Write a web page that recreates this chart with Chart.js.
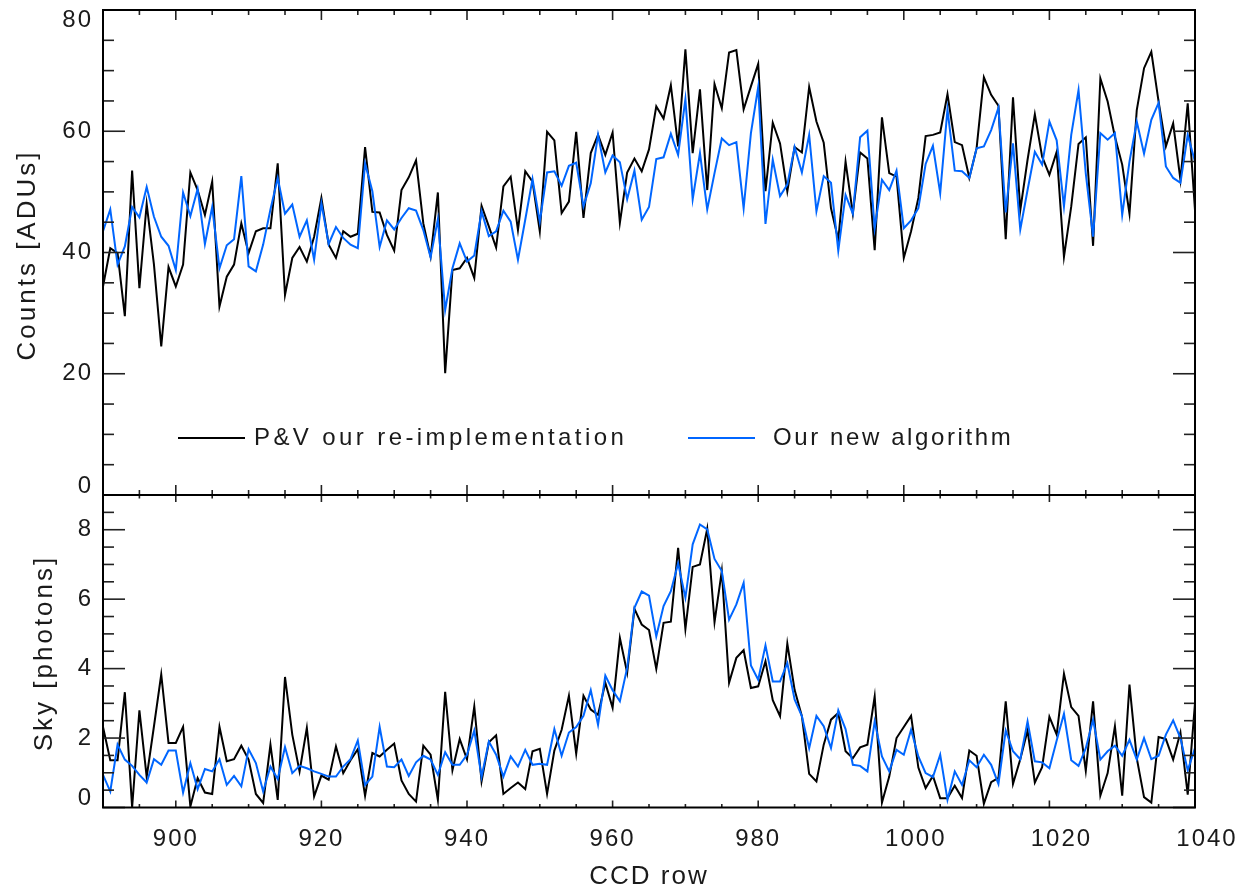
<!DOCTYPE html>
<html lang="en">
<head>
  <meta charset="UTF-8" />
  <title>Counts and sky per CCD row</title>
  <script src="https://cdn.jsdelivr.net/npm/chart.js"></script>
  <style>
    body { margin: 0; background: #fff; }
    .wrap { position: relative; width: 1244px; height: 893px; }
    .wrap canvas { position: absolute; left: 0; top: 0; }
  </style>
</head>
<body>
  <div class="wrap">
    <canvas id="topChart" width="1244" height="893"></canvas>
    <canvas id="skyChart" width="1244" height="893"></canvas>
  </div>

  <script>
    // CCD rows 890..1040, one value per row
    const rows = Array.from({ length: 151 }, (_, k) => 890 + k);
    const xTicks = [900, 920, 940, 960, 980, 1000, 1020, 1040];
    const countsTicks = [0, 20, 40, 60, 80];
    const skyTicks = [0, 2, 4, 6, 8];
    const seriesNames = ['P&V our re-implementation', 'Our new algorithm'];

    // top panel: Counts [ADUs]
    const countsPV = [
      34.4, 40.7, 39.9, 29.5, 53.5, 34.1, 48.0, 38.0, 24.5, 37.6,
      34.4, 38.0, 53.2, 50.3, 46.2, 51.7, 31.1, 36.0, 38.0, 44.8,
      39.9, 43.5, 44.0, 44.0, 54.7, 33.0, 39.1, 40.9, 38.5, 42.6,
      49.0, 41.3, 39.1, 43.5, 42.6, 43.1, 57.4, 46.7, 46.6, 42.9,
      40.3, 50.3, 52.4, 55.2, 44.8, 39.3, 49.9, 20.1, 37.1, 37.4,
      39.1, 35.8, 47.7, 44.3, 40.8, 50.9, 52.5, 43.7, 53.4, 51.7,
      43.5, 59.9, 58.5, 46.5, 48.4, 59.9, 45.7, 56.4, 59.4, 56.1,
      59.8, 44.9, 53.2, 55.5, 53.4, 57.0, 64.1, 62.1, 67.6, 57.5,
      73.5, 56.4, 66.9, 50.3, 67.8, 63.8, 73.0, 73.4, 63.6, 67.4,
      71.1, 50.1, 61.4, 58.0, 50.1, 57.4, 56.5, 67.3, 61.6, 58.1,
      47.3, 42.1, 55.0, 46.4, 56.5, 55.5, 40.4, 62.3, 53.1, 52.5,
      39.1, 43.5, 49.0, 59.2, 59.4, 59.8, 66.1, 58.2, 57.7, 52.3,
      57.2, 68.9, 66.0, 64.2, 42.2, 65.6, 47.0, 55.3, 62.8, 55.8,
      52.8, 56.6, 39.3, 47.6, 57.9, 59.0, 41.1, 68.7, 64.9, 59.1,
      54.5, 46.4, 63.5, 70.4, 73.1, 64.9, 57.5, 61.3, 52.0, 64.6,
      47.0
    ];
    const countsNew = [
      43.5, 47.1, 38.0, 41.0, 47.5, 45.8, 50.8, 45.9, 42.6, 41.1,
      37.1, 49.9, 46.0, 50.5, 41.4, 47.5, 37.4, 41.2, 42.2, 52.6,
      37.7, 36.9, 41.3, 47.1, 52.3, 46.4, 47.9, 42.6, 45.3, 38.8,
      48.1, 41.4, 44.2, 42.4, 41.3, 40.7, 54.7, 50.1, 40.9, 45.3,
      43.8, 45.7, 47.3, 46.9, 43.7, 39.2, 45.5, 30.5, 37.4, 41.5,
      38.5, 39.5, 46.8, 42.7, 43.5, 46.9, 45.1, 38.8, 45.4, 52.1,
      45.1, 53.2, 53.4, 51.0, 54.3, 54.8, 47.6, 51.4, 59.4, 53.2,
      56.0, 54.9, 48.8, 53.5, 45.4, 47.5, 55.4, 55.7, 59.6, 56.1,
      65.3, 48.8, 56.4, 47.1, 53.1, 58.8, 57.7, 58.2, 47.3, 59.7,
      67.3, 44.7, 55.3, 49.3, 51.2, 57.4, 53.2, 59.4, 46.8, 52.6,
      51.5, 40.3, 49.5, 46.4, 59.0, 60.1, 44.0, 52.0, 50.3, 53.5,
      44.0, 45.3, 47.3, 54.6, 57.6, 49.8, 63.6, 53.5, 53.4, 52.3,
      57.2, 57.5, 60.2, 63.9, 46.6, 58.0, 43.8, 50.3, 56.6, 54.5,
      61.6, 58.5, 47.6, 59.4, 66.8, 53.0, 42.6, 59.7, 58.6, 59.7,
      46.2, 55.0, 61.6, 56.3, 61.9, 64.7, 54.2, 52.3, 51.5, 59.4,
      55.0
    ];

    // bottom panel: Sky [photons]
    const skyPV = [
      2.32, 1.36, 1.36, 3.32, 0.00, 2.80, 0.88, 2.34, 3.83, 1.86,
      1.86, 2.32, 0.03, 0.85, 0.43, 0.39, 2.32, 1.33, 1.39, 1.78,
      1.38, 0.39, 0.13, 1.81, 0.22, 3.76, 2.10, 1.04, 2.29, 0.32,
      0.92, 0.80, 1.76, 0.99, 1.36, 1.68, 0.34, 1.57, 1.47, 1.66,
      1.84, 0.78, 0.39, 0.17, 1.78, 1.52, 0.22, 3.33, 1.07, 1.97,
      1.39, 2.91, 0.75, 1.88, 2.08, 0.39, 0.56, 0.72, 0.53, 1.62,
      1.69, 0.39, 1.64, 2.24, 3.22, 1.55, 3.22, 2.82, 2.67, 3.59,
      2.87, 4.88, 3.88, 5.72, 5.27, 5.11, 3.99, 5.32, 5.35, 7.48,
      5.14, 6.93, 7.00, 8.03, 5.34, 6.81, 3.59, 4.31, 4.53, 3.44,
      3.49, 4.21, 3.09, 2.63, 4.72, 3.39, 2.63, 0.97, 0.75, 1.81,
      2.53, 2.72, 1.62, 1.42, 1.73, 1.81, 3.20, 0.14, 0.89, 2.00,
      2.32, 2.64, 1.15, 0.56, 0.91, 0.27, 0.27, 0.63, 0.27, 1.64,
      1.49, 0.11, 0.73, 0.85, 3.06, 0.68, 1.39, 2.22, 0.72, 1.16,
      2.61, 2.10, 3.85, 2.89, 2.64, 1.06, 3.06, 0.34, 0.99, 2.34,
      0.34, 3.54, 1.42, 0.30, 0.14, 2.03, 1.97, 1.38, 2.16, 0.37,
      3.01
    ];
    const skyNew = [
      0.94, 0.46, 1.81, 1.38, 1.20, 0.94, 0.72, 1.39, 1.23, 1.64,
      1.64, 0.43, 1.28, 0.53, 1.11, 1.04, 1.39, 0.65, 0.91, 0.61,
      1.68, 1.28, 0.46, 1.18, 0.82, 1.74, 0.99, 1.20, 1.13, 1.04,
      0.97, 0.89, 0.89, 1.18, 1.39, 1.93, 0.65, 0.89, 2.32, 1.18,
      1.16, 1.38, 0.91, 1.30, 1.49, 1.38, 0.94, 1.59, 1.23, 1.23,
      1.52, 2.22, 0.88, 1.90, 1.52, 0.89, 1.47, 1.18, 1.66, 1.23,
      1.26, 1.23, 2.26, 1.49, 2.16, 2.32, 2.64, 3.38, 2.38, 3.80,
      3.38, 3.06, 4.02, 5.75, 6.22, 6.10, 4.93, 5.80, 6.23, 7.03,
      6.04, 7.58, 8.15, 8.01, 7.16, 6.81, 5.41, 5.85, 6.47, 4.09,
      3.68, 4.67, 3.63, 3.63, 4.16, 3.11, 2.63, 1.71, 2.64, 2.34,
      1.71, 2.80, 2.26, 1.23, 1.20, 1.04, 2.48, 1.47, 1.04, 1.66,
      1.52, 2.24, 1.47, 0.99, 0.88, 1.52, 0.22, 1.04, 0.65, 1.36,
      1.16, 1.52, 1.23, 0.68, 2.22, 1.62, 1.39, 2.48, 1.33, 1.30,
      1.13, 1.93, 2.70, 1.36, 1.20, 1.71, 2.53, 1.38, 1.62, 1.78,
      1.49, 1.95, 1.38, 2.00, 1.39, 1.49, 2.10, 2.51, 2.00, 1.07,
      1.71
    ];

    const BLACK = '#000000';
    const BLUE = '#0066ff';
    const FONT = '24px "Liberation Sans", "DejaVu Sans", sans-serif';
    const TITLE_FONT = '26px "Liberation Sans", "DejaVu Sans", sans-serif';
    const INK = '#1a1a1a';

    function pts(vals) {
      return rows.map((r, k) => ({ x: r, y: vals[k] }));
    }

    function txt(ctx, s, x, y, align, spacing) {
      ctx.letterSpacing = (spacing || 0) + 'px';
      ctx.textAlign = align;
      ctx.fillText(s, x, y);
    }

    // box, inward ticks on all four sides, tick labels, titles
    const framePlugin = {
      id: 'frame',
      afterDraw(chart, args, o) {
        const { ctx, chartArea: a } = chart;
        const x = chart.scales.x, y = chart.scales.y;
        const seg = (x1, y1, x2, y2) => { ctx.beginPath(); ctx.moveTo(x1, y1); ctx.lineTo(x2, y2); ctx.stroke(); };
        ctx.save();
        ctx.strokeStyle = '#222';
        ctx.lineWidth = 1.6;

        for (let v = 890; v <= 1040; v += 5) {
          const px = x.getPixelForValue(v);
          const len = v % 20 === 0 ? o.xTick : o.xTick / 2;
          seg(px, a.top, px, a.top + len);
          seg(px, a.bottom, px, a.bottom - len);
        }
        for (let v = y.min; v <= y.max + 1e-9; v += o.yMinor) {
          const py = y.getPixelForValue(v);
          const major = Math.abs(v / o.yMajor - Math.round(v / o.yMajor)) < 1e-6;
          const len = major ? 22 : 11;
          seg(a.left, py, a.left + len, py);
          seg(a.right, py, a.right - len, py);
        }

        ctx.strokeStyle = '#000';
        ctx.lineWidth = 2;
        ctx.strokeRect(a.left, a.top, a.right - a.left, a.bottom - a.top);

        ctx.fillStyle = INK;
        ctx.font = FONT;
        ctx.textBaseline = 'middle';
        o.yLabels.forEach(v => {
          let py = y.getPixelForValue(v);
          py = Math.max(a.top + 10, Math.min(a.bottom - 9, py));
          txt(ctx, String(v), a.left - 10, py, 'right', 2);
        });

        if (o.xLabels) {
          xTicks.forEach(v => {
            const px = x.getPixelForValue(v);
            txt(ctx, String(v), px + (v >= 1000 ? 12 : 0), 839, 'center', 2);
          });
          ctx.font = TITLE_FONT;
          txt(ctx, 'CCD row', 649, 877, 'center', 2);
        }

        ctx.font = TITLE_FONT;
        ctx.save();
        ctx.translate(o.titleX, o.titleY);
        ctx.rotate(-Math.PI / 2);
        txt(ctx, o.title, 0, 0, 'center', 3);
        ctx.restore();

        if (o.legend) {
          const ly = 438;
          ctx.font = FONT;
          ctx.lineWidth = 2;
          ctx.strokeStyle = BLACK;
          seg(178, ly, 245, ly);
          ctx.strokeStyle = BLUE;
          seg(688, ly, 755, ly);
          ctx.fillStyle = INK;
          txt(ctx, seriesNames[0], 254, ly, 'left', 3.4);
          txt(ctx, seriesNames[1], 773, ly, 'left', 2.6);
        }
        ctx.restore();
      }
    };

    function makeChart(id, black, blue, yMax, pad, frameOpts) {
      return new Chart(document.getElementById(id), {
        type: 'line',
        data: {
          datasets: [
            { label: seriesNames[0], data: pts(black), borderColor: BLACK, borderWidth: 2, order: 2 },
            { label: seriesNames[1], data: pts(blue), borderColor: BLUE, borderWidth: 2, order: 1 }
          ]
        },
        options: {
          responsive: false,
          animation: false,
          events: [],
          layout: { padding: pad },
          elements: { point: { radius: 0 }, line: { tension: 0 } },
          plugins: { legend: { display: false }, tooltip: { enabled: false }, frame: frameOpts },
          scales: {
            x: { type: 'linear', min: 890, max: 1040, display: false },
            y: { type: 'linear', min: 0, max: yMax, display: false }
          }
        },
        plugins: [framePlugin]
      });
    }

    makeChart('topChart', countsPV, countsNew, 80,
      { left: 103, right: 49, top: 10, bottom: 398 },
      { xTick: 10, yMinor: 5, yMajor: 20, yLabels: countsTicks, xLabels: false,
        title: 'Counts [ADUs]', titleX: 28, titleY: 255, legend: true });

    makeChart('skyChart', skyPV, skyNew, 9,
      { left: 103, right: 49, top: 495, bottom: 85.5 },
      { xTick: 7, yMinor: 0.5, yMajor: 2, yLabels: skyTicks, xLabels: true,
        title: 'Sky [photons]', titleX: 45, titleY: 653, legend: false });
  </script>
</body>
</html>
